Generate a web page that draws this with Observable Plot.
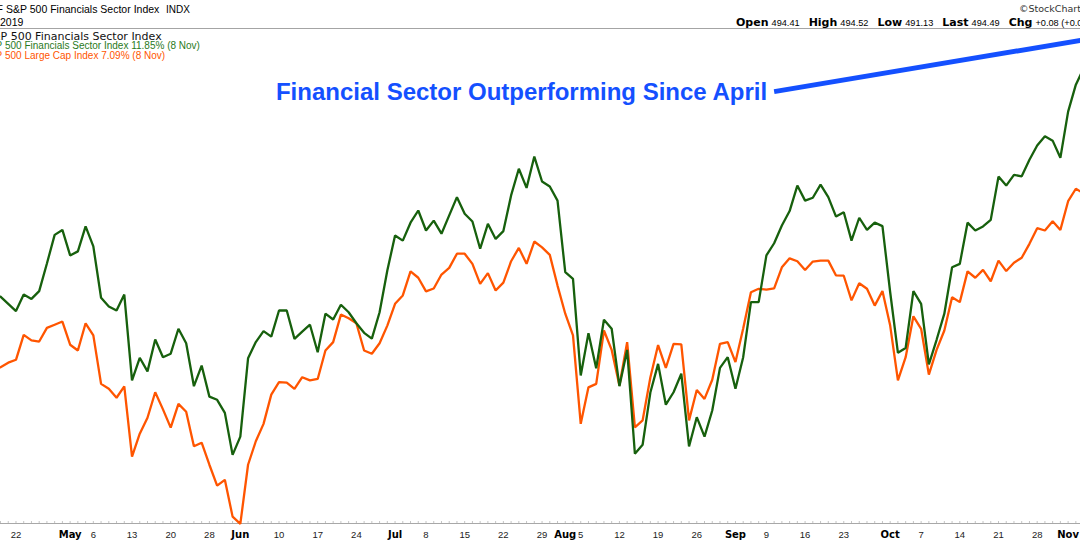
<!DOCTYPE html>
<html><head><meta charset="utf-8">
<script src="https://cdn.jsdelivr.net/npm/d3@7"></script>
<script src="https://cdn.jsdelivr.net/npm/@observablehq/plot@0.6"></script>
<style>
html,body{margin:0;padding:0;background:#fff;}
#wrap{position:relative;width:1080px;height:546px;overflow:hidden;background:#fff;}
#wrap svg{position:absolute;left:0;top:0;}
</style></head><body><div id="wrap"></div>
<script>
// Trading days (visible window is cropped on both sides)
const dates = [
"2019-04-17","2019-04-18","2019-04-22","2019-04-23","2019-04-24","2019-04-25","2019-04-26","2019-04-29","2019-04-30",
"2019-05-01","2019-05-02","2019-05-03","2019-05-06","2019-05-07","2019-05-08","2019-05-09","2019-05-10",
"2019-05-13","2019-05-14","2019-05-15","2019-05-16","2019-05-17","2019-05-20","2019-05-21","2019-05-22","2019-05-23","2019-05-24",
"2019-05-28","2019-05-29","2019-05-30","2019-05-31",
"2019-06-03","2019-06-04","2019-06-05","2019-06-06","2019-06-07","2019-06-10","2019-06-11","2019-06-12","2019-06-13","2019-06-14",
"2019-06-17","2019-06-18","2019-06-19","2019-06-20","2019-06-21","2019-06-24","2019-06-25","2019-06-26","2019-06-27","2019-06-28",
"2019-07-01","2019-07-02","2019-07-03","2019-07-05","2019-07-08","2019-07-09","2019-07-10","2019-07-11","2019-07-12",
"2019-07-15","2019-07-16","2019-07-17","2019-07-18","2019-07-19","2019-07-22","2019-07-23","2019-07-24","2019-07-25","2019-07-26",
"2019-07-29","2019-07-30","2019-07-31","2019-08-01","2019-08-02",
"2019-08-05","2019-08-06","2019-08-07","2019-08-08","2019-08-09","2019-08-12","2019-08-13","2019-08-14","2019-08-15","2019-08-16",
"2019-08-19","2019-08-20","2019-08-21","2019-08-22","2019-08-23","2019-08-26","2019-08-27","2019-08-28","2019-08-29","2019-08-30",
"2019-09-03","2019-09-04","2019-09-05","2019-09-06","2019-09-09","2019-09-10","2019-09-11","2019-09-12","2019-09-13",
"2019-09-16","2019-09-17","2019-09-18","2019-09-19","2019-09-20","2019-09-23","2019-09-24","2019-09-25","2019-09-26","2019-09-27",
"2019-09-30","2019-10-01","2019-10-02","2019-10-03","2019-10-04","2019-10-07","2019-10-08","2019-10-09","2019-10-10","2019-10-11",
"2019-10-14","2019-10-15","2019-10-16","2019-10-17","2019-10-18","2019-10-21","2019-10-22","2019-10-23","2019-10-24","2019-10-25",
"2019-10-28","2019-10-29","2019-10-30","2019-10-31","2019-11-01","2019-11-04","2019-11-05","2019-11-06","2019-11-07","2019-11-08"
];

// % performance, S&P 500 Financials Sector Index (green)
const financials = [
 2.86, 2.61, 2.36, 2.93, 2.78, 3.05, 4.00, 4.99, 5.16, 4.28,
 4.42, 5.28, 4.59, 2.82, 2.52, 2.38, 2.93, -0.03, 0.75, 0.28,
 1.38, 0.77, 0.89, 1.75, 1.25, -0.23, 0.48, -0.59, -0.70, -1.15,
 -2.60, -1.97, 0.73, 1.29, 1.67, 1.48, 2.38, 2.38, 1.40, 1.65,
 1.89, 0.94, 2.27, 2.07, 2.58, 2.32, 1.94, 1.61, 1.41, 2.32,
 3.76, 4.97, 4.79, 5.41, 5.83, 5.14, 5.48, 5.03, 5.66, 6.29,
 5.72, 5.45, 4.51, 5.37, 4.85, 5.12, 6.35, 7.27, 6.61, 7.69,
 6.83, 6.66, 6.17, 3.70, 3.47, 0.14, 1.60, 0.39, 2.06, 1.75,
 -0.23, 1.02, -2.56, -2.25, -0.45, 0.54, -0.87, -0.44, 0.20, -2.31,
 -1.30, -1.97, -1.07, 0.40, 0.77, -0.32, 0.77, 2.67, 2.67, 4.28,
 4.70, 5.31, 5.81, 6.69, 6.17, 6.27, 6.72, 6.29, 5.62, 5.77,
 4.79, 5.58, 5.16, 5.41, 5.29, 3.01, 0.92, 1.09, 3.05, 2.61,
 0.52, 1.37, 2.27, 3.87, 3.99, 5.41, 5.14, 5.28, 5.51, 7.00,
 6.69, 7.06, 7.01, 7.58, 8.07, 8.39, 8.24, 7.65, 9.24, 10.17,
 10.73
];

// % performance, S&P 500 Large Cap Index (orange)
const sp500 = [
 0.42, 0.58, 0.68, 1.54, 1.35, 1.31, 1.78, 1.89, 2.00, 1.20,
 1.00, 1.94, 1.52, -0.15, -0.32, -0.63, -0.24, -2.66, -1.87, -1.32,
 -0.44, -1.03, -1.66, -0.84, -1.11, -2.30, -2.18, -2.94, -3.66, -3.46,
 -4.73, -4.98, -2.94, -2.13, -1.53, -0.52, -0.09, -0.11, -0.32, 0.08,
 -0.03, 0.02, 1.00, 1.29, 2.24, 2.11, 1.94, 1.00, 0.89, 1.25,
 1.86, 2.61, 2.90, 3.73, 3.51, 3.04, 3.14, 3.62, 3.85, 4.34,
 4.34, 3.99, 3.30, 3.67, 3.07, 3.34, 4.08, 4.54, 3.99, 4.76,
 4.56, 4.30, 3.24, 2.27, 1.52, -1.53, -0.27, -0.15, 1.69, 1.02,
 -0.21, 1.29, -1.65, -1.41, 0.07, 1.19, 0.40, 1.23, 1.21, -1.41,
 -0.36, -0.67, -0.01, 1.23, 1.29, 0.60, 1.76, 3.01, 3.13, 3.10,
 3.14, 3.87, 4.18, 4.08, 3.78, 4.07, 4.10, 4.10, 3.59, 3.58,
 2.73, 3.32, 3.13, 2.55, 3.05, 1.86, -0.03, 0.77, 2.18, 1.75,
 0.17, 1.02, 1.69, 2.84, 2.67, 3.73, 3.51, 3.78, 3.39, 4.10,
 3.74, 4.03, 4.20, 4.68, 5.22, 5.14, 5.46, 5.16, 6.15, 6.58,
 6.42
];

const tickDates = ["2019-04-22","2019-05-01","2019-05-06","2019-05-13","2019-05-20","2019-05-28","2019-06-03","2019-06-10","2019-06-17","2019-06-24",
 "2019-07-01","2019-07-08","2019-07-15","2019-07-22","2019-07-29","2019-08-01","2019-08-05","2019-08-12","2019-08-19","2019-08-26",
 "2019-09-03","2019-09-09","2019-09-16","2019-09-23","2019-10-01","2019-10-07","2019-10-14","2019-10-21","2019-10-28","2019-11-01"];
const tickText = ["22","May","6","13","20","28","Jun","10","17","24",
 "Jul","8","15","22","29","Aug","5","12","19","26",
 "Sep","9","16","23","Oct","7","14","21","28","Nov"];

const note = {text:"Financial Sector Outperforming Since April", fromDate:"2019-09-10", fromValue:9.93, toDate:"2019-11-08", toValue:11.85};

const titleText = "S&P 500 Financials Sector Index";
const quote = [["Open","494.41"],["High","494.52"],["Low","491.13"],["Last","494.49"],["Chg","+0.08 (+0.02%)"]];
const legendFin = "500 Financials Sector Index 11.85% (8 Nov)";
const legendSpx = "500 Large Cap Index 7.09% (8 Nov)";

const GREEN = "#17600d", ORANGE = "#ff5500", BLUE = "#1450ff";
const idx = d => dates.indexOf(d);
const rows = financials.map((v, i) => ({i, date: dates[i], fin: v, spx: sp500[i]}));
const ticks = tickDates.map((d, j) => ({i: idx(d), label: tickText[j], month: /[A-Za-z]/.test(tickText[j])}));
const yMin = -4.967, yMax = 12.108;
const ARIAL = "Liberation Sans, Arial, sans-serif";
const DEJAVU = "DejaVu Sans, Verdana, sans-serif";

const chart = Plot.plot({
  width: 1080, height: 546,
  marginTop: 28, marginBottom: 23, marginLeft: 0, marginRight: 0,
  x: {type: "linear", domain: [0, 139.6], axis: null},
  y: {domain: [yMin, yMax], axis: null},
  marks: [
    Plot.ruleY([yMax], {stroke: "#a4a4a4"}),
    Plot.ruleY([yMin], {stroke: "#a8a8a8"}),
    Plot.ruleX(rows, {x: "i", y1: yMin, y2: yMin + 2 / 29, stroke: "#c4c4c4"}),
    Plot.line(rows, {x: "i", y: "spx", stroke: ORANGE, strokeWidth: 2.3, strokeLinejoin: "miter"}),
    Plot.line(rows, {x: "i", y: "fin", stroke: GREEN, strokeWidth: 2.3, strokeLinejoin: "miter"}),
    Plot.link([note], {x1: d => idx(d.fromDate), y1: "fromValue", x2: d => idx(d.toDate), y2: "toValue", stroke: BLUE, strokeWidth: 5}),
    Plot.text([note], {x: d => idx(d.fromDate), y: "fromValue", text: "text", textAnchor: "end", dx: -7, dy: 1,
      fontSize: 24, fontWeight: "bold", fontFamily: ARIAL, fill: BLUE}),
    Plot.text(ticks.filter(d => !d.month), {x: "i", text: "label", frameAnchor: "bottom", dy: 14,
      fontSize: 9.5, fontFamily: ARIAL, fill: "#222"}),
    Plot.text(ticks.filter(d => d.month), {x: "i", text: "label", frameAnchor: "bottom", dy: 14,
      fontSize: 10, fontWeight: "bold", fontFamily: DEJAVU, fill: "#000"})
  ]
});
const wrap = document.getElementById("wrap");
wrap.appendChild(chart);

// Header texts (cropped like the reference)
const hdr = d3.create("svg").attr("width", 1080).attr("height", 546).style("pointer-events", "none");
function t(x, y, str, o = {}) {
  const e = hdr.append("text").attr("x", x).attr("y", y).text(str)
    .attr("font-family", o.family || ARIAL).attr("font-size", o.size || 11).attr("fill", o.fill || "#000");
  if (o.anchor) e.attr("text-anchor", o.anchor);
  if (o.weight) e.attr("font-weight", o.weight);
  if (o.ls != null) e.attr("letter-spacing", o.ls);
  return e;
}
t(3, 13, "F", {size: 10.5, anchor: "end"});
t(6, 13, titleText, {size: 10.5});
t(166, 13, "INDX", {size: 10});
t(0, 26, "2019", {size: 10.5});
t(0.5, 39.5, "S&", {family: DEJAVU, size: 11, anchor: "end", fill: "#111"});
t(0.5, 39.5, "P 500 Financials Sector Index", {family: DEJAVU, size: 11, fill: "#111"});
t(2.2, 49, "S&P", {size: 10, anchor: "end", fill: "#2a7a1c"});
t(5, 49, legendFin, {size: 10, fill: "#2a7a1c"});
t(2.2, 59, "S&P", {size: 10, anchor: "end", fill: ORANGE});
t(5, 59, legendSpx, {size: 10, fill: ORANGE});
t(1019, 12, "©StockCharts.com", {family: DEJAVU, size: 9.5, fill: "#333"});
const q = hdr.append("text").attr("x", 736).attr("y", 25.5).attr("fill", "#000");
quote.forEach(([k, v], j) => {
  q.append("tspan").attr("dx", j ? 9 : 0).attr("font-family", DEJAVU).attr("font-weight", "bold").attr("font-size", 11).text(k);
  q.append("tspan").attr("dx", 3).attr("font-family", ARIAL).attr("font-size", 9.2).text(v);
});
wrap.appendChild(hdr.node());
</script></body></html>
